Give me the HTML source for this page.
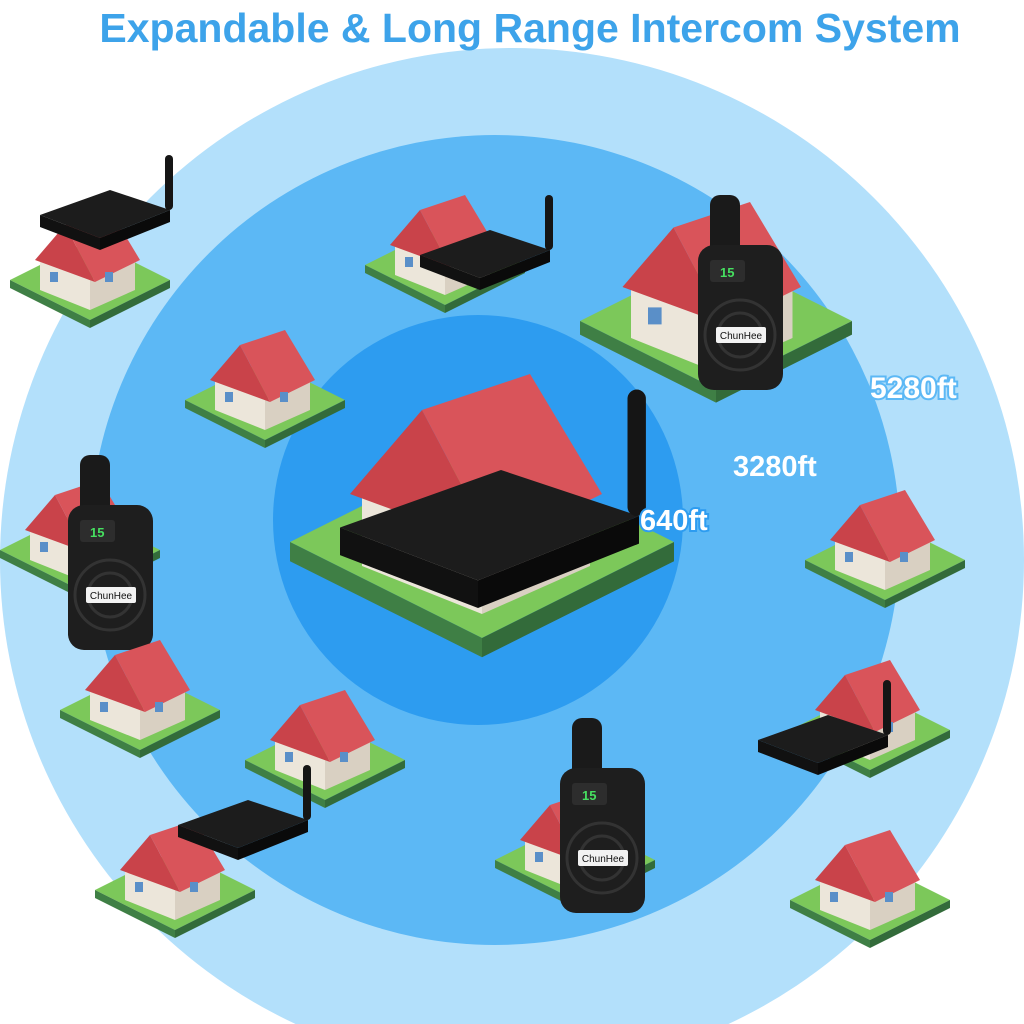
<!DOCTYPE html>
<html><head><meta charset="utf-8"><style>
html,body{margin:0;padding:0;background:#fff;width:1024px;height:1024px;overflow:hidden}
svg{display:block}
</style></head><body>
<svg width="1024" height="1024" viewBox="0 0 1024 1024" xmlns="http://www.w3.org/2000/svg">
<defs>
<g id="house">
 <polygon points="0,30 80,-10 160,30 80,70" fill="#7cc85a"/>
 <polygon points="0,30 80,70 80,78 0,38" fill="#3f7f45"/>
 <polygon points="80,70 160,30 160,38 80,78" fill="#336b3a"/>
 <polygon points="30,10 80,30 80,60 30,40" fill="#ece6da"/>
 <polygon points="80,30 125,10 125,40 80,60" fill="#d9d0c2"/>
 <polygon points="25,10 55,-25 85,32" fill="#c9434a"/>
 <polygon points="55,-25 100,-40 130,10 85,32" fill="#d9545a"/>
 <rect x="40" y="22" width="8" height="10" fill="#5a8fc8"/>
 <rect x="95" y="22" width="8" height="10" fill="#5a8fc8"/>
</g>
<g id="base">
 <polygon points="0,25 70,0 130,20 60,48" fill="#1c1c1c"/>
 <polygon points="0,25 60,48 60,60 0,37" fill="#111"/>
 <polygon points="60,48 130,20 130,32 60,60" fill="#0a0a0a"/>
 <rect x="125" y="-35" width="8" height="55" rx="4" fill="#151515"/>
</g>
<g id="talkie">
 <rect x="12" y="0" width="30" height="70" rx="10" fill="#1a1a1a"/>
 <rect x="0" y="50" width="85" height="145" rx="16" fill="#1e1e1e"/>
 <rect x="12" y="65" width="35" height="22" rx="3" fill="#2d2d2d"/>
 <text x="22" y="82" font-family="Liberation Sans,sans-serif" font-size="13" fill="#46e060" font-weight="bold">15</text>
 <circle cx="42" cy="140" r="35" fill="none" stroke="#333" stroke-width="3"/>
 <circle cx="42" cy="140" r="22" fill="none" stroke="#333" stroke-width="3"/>
 <rect x="18" y="132" width="50" height="16" rx="2" fill="#f2f2f2"/>
 <text x="43" y="144" font-family="Liberation Sans,sans-serif" font-size="10" fill="#111" text-anchor="middle">ChunHee</text>
</g>
</defs>
<circle cx="512" cy="560" r="512" fill="#b3e0fb"/>
<circle cx="495" cy="540" r="405" fill="#5cb8f5"/>
<circle cx="478" cy="520" r="205" fill="#2d9cf0"/>
<text x="530" y="42" text-anchor="middle" font-family="Liberation Sans,sans-serif" font-size="41" font-weight="bold" fill="#3da3ea">Expandable &amp; Long Range Intercom System</text>

<use href="#house" x="10" y="250"/>
<use href="#base" x="40" y="190"/>
<use href="#house" x="365" y="235"/>
<use href="#base" x="420" y="230"/>
<g transform="translate(580,270) scale(1.7)"><use href="#house"/></g>
<use href="#talkie" x="698" y="195"/>
<use href="#house" x="185" y="370"/>
<g transform="translate(290,470) scale(2.4)"><use href="#house"/></g>
<g transform="translate(340,470) scale(2.3)"><use href="#base"/></g>
<use href="#house" x="0" y="520"/>
<use href="#talkie" x="68" y="455"/>
<use href="#house" x="805" y="530"/>
<use href="#house" x="60" y="680"/>
<use href="#house" x="245" y="730"/>
<use href="#house" x="790" y="700"/>
<use href="#base" x="758" y="715"/>
<use href="#house" x="95" y="860"/>
<use href="#base" x="178" y="800"/>
<use href="#house" x="495" y="830"/>
<use href="#talkie" x="560" y="718"/>
<use href="#house" x="790" y="870"/>

<g font-family="Liberation Sans,sans-serif" font-weight="bold" fill="#fff" stroke="#5cb8f5" stroke-width="4" paint-order="stroke">
 <text x="870" y="398" font-size="30">5280ft</text>
 <text x="733" y="476" font-size="29">3280ft</text>
 <text x="640" y="530" font-size="29" stroke="#2d9cf0">640ft</text>
</g>
</svg>
</body></html>
